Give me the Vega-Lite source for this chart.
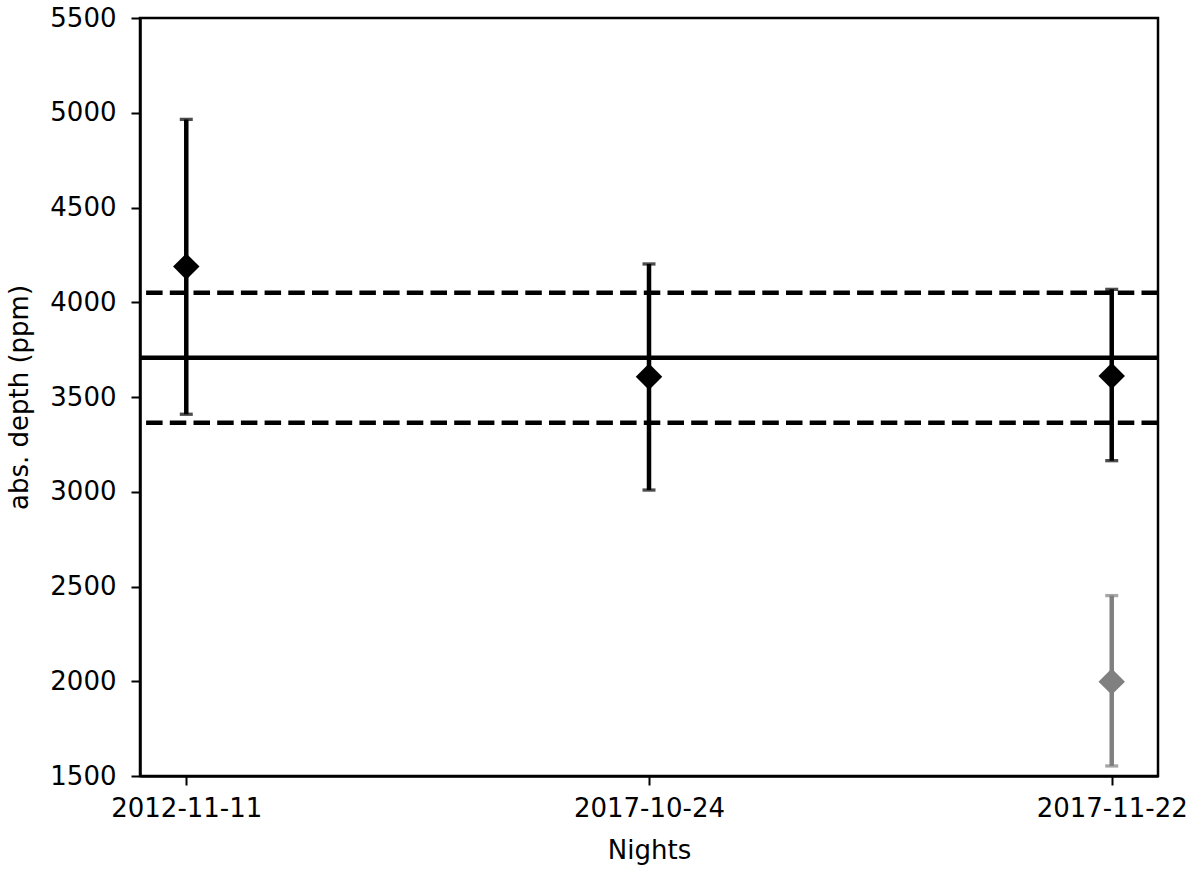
{
  "$schema": "https://vega.github.io/schema/vega-lite/v6.json",
  "width": 1018,
  "height": 758,
  "autosize": "none",
  "padding": {"left": 140, "top": 18, "right": 42, "bottom": 96},
  "background": "white",
  "config": {
    "font": "DejaVu Sans",
    "view": {"stroke": "black", "strokeWidth": 2.5},
    "axis": {
      "grid": false,
      "domainColor": "black",
      "domainWidth": 2.5,
      "tickColor": "black",
      "tickWidth": 2,
      "tickSize": 9,
      "labelColor": "black",
      "labelFont": "DejaVu Sans",
      "labelFontSize": 26,
      "titleFont": "DejaVu Sans",
      "titleFontSize": 26,
      "titleFontWeight": "normal",
      "titleColor": "black"
    }
  },
  "datasets": {
    "points": [
      {"night": "2012-11-11", "depth": 4188, "lo": 3409, "hi": 4965, "group": "main"},
      {"night": "2017-10-24", "depth": 3607, "lo": 3009, "hi": 4202, "group": "main"},
      {"night": "2017-11-22", "depth": 3611, "lo": 3164, "hi": 4068, "group": "main"},
      {"night": "2017-11-22", "depth": 1998, "lo": 1553, "hi": 2452, "group": "other"}
    ],
    "levels": [
      {"level": 3707, "kind": "mean"},
      {"level": 4050, "kind": "upper"},
      {"level": 3364, "kind": "lower"}
    ]
  },
  "layer": [
    {
      "data": {"name": "levels"},
      "transform": [{"filter": "datum.kind === 'mean'"}],
      "mark": {"type": "rule", "color": "black", "strokeWidth": 4.5},
      "encoding": {"y": {"field": "level", "type": "quantitative", "scale": {"domain": [1500, 5500]}}}
    },
    {
      "data": {"name": "levels"},
      "transform": [{"filter": "datum.kind !== 'mean'"}],
      "mark": {"type": "rule", "color": "black", "strokeWidth": 4.3, "strokeDash": [16.5, 7.2]},
      "encoding": {"y": {"field": "level", "type": "quantitative"}}
    },
    {
      "data": {"name": "points"},
      "mark": {"type": "rule", "strokeWidth": 4.5},
      "encoding": {
        "x": {"field": "night", "type": "nominal"},
        "y": {"field": "lo", "type": "quantitative"},
        "y2": {"field": "hi"},
        "color": {"field": "group", "type": "nominal", "scale": {"domain": ["main", "other"], "range": ["black", "#808080"]}, "legend": null}
      }
    },
    {
      "data": {"name": "points"},
      "mark": {"type": "tick", "size": 13, "thickness": 3.3},
      "encoding": {
        "x": {"field": "night", "type": "nominal"},
        "y": {"field": "hi", "type": "quantitative"},
        "color": {"field": "group", "type": "nominal", "legend": null}
      }
    },
    {
      "data": {"name": "points"},
      "mark": {"type": "tick", "size": 13, "thickness": 3.3},
      "encoding": {
        "x": {"field": "night", "type": "nominal"},
        "y": {"field": "lo", "type": "quantitative"},
        "color": {"field": "group", "type": "nominal", "legend": null}
      }
    },
    {
      "data": {"name": "points"},
      "mark": {"type": "point", "shape": "diamond", "filled": true, "opacity": 1, "size": 700},
      "encoding": {
        "x": {
          "field": "night",
          "type": "nominal",
          "scale": {"type": "point", "padding": 0.1},
          "axis": {"title": "Nights", "labelAngle": 0, "labelAlign": "center", "labelBaseline": "top", "labelPadding": 10, "titlePadding": 16}
        },
        "y": {
          "field": "depth",
          "type": "quantitative",
          "scale": {"domain": [1500, 5500], "nice": false, "zero": false},
          "axis": {"title": "abs. depth (ppm)", "format": "d", "values": [1500, 2000, 2500, 3000, 3500, 4000, 4500, 5000, 5500], "labelPadding": 15, "titlePadding": 17}
        },
        "color": {"field": "group", "type": "nominal", "legend": null}
      }
    }
  ]
}
